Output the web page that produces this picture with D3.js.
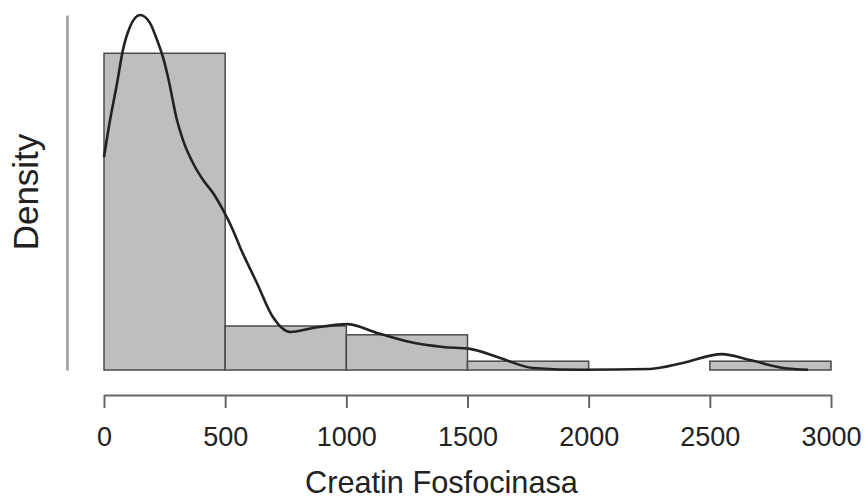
<!DOCTYPE html>
<html>
<head>
<meta charset="utf-8">
<script src="https://cdn.jsdelivr.net/npm/d3@7/dist/d3.min.js"></script>
<style>
  html, body { margin: 0; padding: 0; background: #fff; }
  svg { display: block; }
  text { font-family: "Liberation Sans", Arial, Helvetica, sans-serif; fill: #222; }
</style>
</head>
<body>
<svg id="chart" width="868" height="502"></svg>
<script>
// Histogram bins (lower edges, width 500) and counts per bin
const binStarts = [0, 500, 1000, 1500, 2000, 2500];
const binWidth = 500;
const binCounts = [36, 5, 4, 1, 0, 1];

// Kernel density estimate sampled along the x range
const kdeX = [0, 25, 54, 78, 107, 149, 190, 219, 243, 264, 301, 326, 367, 409, 450, 491, 532, 561,
              631, 697, 768, 862, 1003, 1127, 1263, 1399, 1510, 1634, 1770, 1977, 2253, 2389,
              2550, 2666, 2802, 2905];
const kdeY = [0.001030, 0.001209, 0.001388, 0.001547, 0.001659, 0.001717, 0.001678, 0.001596,
              0.001514, 0.001417, 0.001209, 0.001112, 0.001001, 0.000919, 0.000856, 0.000774,
              0.000677, 0.000595, 0.000421, 0.000256, 0.000184, 0.000203, 0.000222, 0.000179,
              0.000135, 0.000111, 0.000102, 0.000058, 0.000010, 0.000001, 0.000005, 0.000034,
              0.000077, 0.000048, 0.000010, 0.000001];

const xTicks = [0, 500, 1000, 1500, 2000, 2500, 3000];
const xTitle = "Creatin Fosfocinasa";
const yTitle = "Density";

const total = d3.sum(binCounts);
const binDensity = binCounts.map(c => c / (total * binWidth));

const svg = d3.select("#chart");

const x = d3.scaleLinear().domain([0, 3000]).range([104, 831]);
const y = d3.scaleLinear().domain([0, d3.max(kdeY)]).range([370, 15]);

// Histogram bars
svg.append("g")
  .selectAll("rect")
  .data(binStarts.map((s, i) => ({ s, d: binDensity[i] })))
  .join("rect")
  .attr("x", d => x(d.s))
  .attr("width", d => x(d.s + binWidth) - x(d.s))
  .attr("y", d => y(d.d))
  .attr("height", d => y(0) - y(d.d))
  .attr("fill", "#bebebe")
  .attr("stroke", "#4a4a4a")
  .attr("stroke-width", 1.5);

// Density curve
const line = d3.line()
  .x((d, i) => x(kdeX[i]))
  .y(d => y(d))
  .curve(d3.curveMonotoneX);

svg.append("path")
  .datum(kdeY)
  .attr("d", line)
  .attr("fill", "none")
  .attr("stroke", "#222")
  .attr("stroke-width", 2.6);

// X axis
const xAxis = svg.append("g")
  .attr("transform", "translate(0,395)")
  .call(d3.axisBottom(x).tickValues(xTicks).tickFormat(d3.format("d"))
    .tickSize(13).tickSizeOuter(0).tickPadding(19));
xAxis.select(".domain").attr("stroke", "#666").attr("stroke-width", 2);
xAxis.selectAll(".tick line").attr("stroke", "#666").attr("stroke-width", 2);
xAxis.selectAll(".tick text")
  .style("font-family", "'Liberation Sans', Arial, sans-serif")
  .style("font-size", "27px")
  .attr("fill", "#222");

// Y axis: line only, no tick labels
const yAxis = svg.append("g")
  .attr("transform", "translate(67,0)")
  .call(d3.axisLeft(y).tickValues([]).tickSizeOuter(0));
yAxis.select(".domain").attr("stroke", "#aaa").attr("stroke-width", 3);

// Axis titles
svg.append("text")
  .attr("x", 305)
  .attr("y", 493)
  .attr("text-anchor", "start")
  .style("font-size", "30.7px")
  .text(xTitle);

svg.append("text")
  .attr("transform", "translate(38,192) rotate(-90)")
  .attr("text-anchor", "middle")
  .style("font-size", "35px")
  .text(yTitle);
</script>
</body>
</html>
